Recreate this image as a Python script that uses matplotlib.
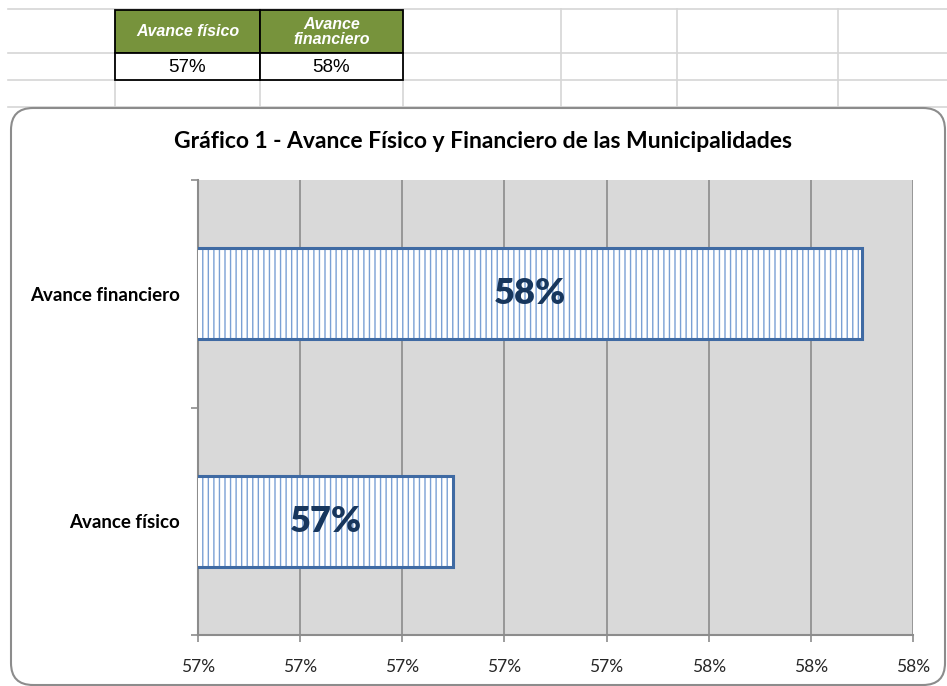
import matplotlib.pyplot as plt
from matplotlib.patches import Rectangle, FancyBboxPatch

# data
categories = ['Avance físico', 'Avance financiero']
values = [0.5725, 0.5765]
value_labels = ['57%', '58%']
header_labels = ['Avance físico', 'Avance\nfinanciero']
x_ticks = [0.570, 0.571, 0.572, 0.573, 0.574, 0.575, 0.576, 0.577]
x_tick_labels = ['57%', '57%', '57%', '57%', '57%', '58%', '58%', '58%']
title = 'Gráfico 1 - Avance Físico y Financiero de las Municipalidades'

W, H = 947, 686
fig = plt.figure(figsize=(W / 100, H / 100), dpi=100)
fig.patch.set_facecolor('white')

# spreadsheet background, pixel coordinates
bg = fig.add_axes([0, 0, 1, 1])
bg.set_xlim(0, W)
bg.set_ylim(H, 0)
bg.axis('off')

grid_c = '#d6d6d6'
for yy in [9, 53, 80, 107]:
    bg.plot([8, W], [yy, yy], color=grid_c, lw=1.2, zorder=1)
for xx in [115, 260, 403, 561, 677, 838]:
    bg.plot([xx, xx], [9, 107], color=grid_c, lw=1.2, zorder=1)

# small table
cols = [(115, 260), (260, 403)]
for (x0, x1), hdr, val in zip(cols, header_labels, value_labels):
    bg.add_patch(Rectangle((x0, 10), x1 - x0, 43, facecolor='#77933c',
                           edgecolor='black', lw=1.3, zorder=3))
    bg.add_patch(Rectangle((x0, 53), x1 - x0, 27, facecolor='white',
                           edgecolor='black', lw=1.3, zorder=3))
    bg.text((x0 + x1) / 2, 32, hdr, ha='center', va='center', color='white',
            fontsize=11.5, fontweight='bold', fontstyle='italic',
            family='Liberation Sans', linespacing=0.95, zorder=4)
    bg.text((x0 + x1) / 2, 67, val, ha='center', va='center', color='black',
            fontsize=13.5, family='Liberation Sans', zorder=4)

# chart frame
bg.add_patch(FancyBboxPatch((11, 108), 934, 577,
                            boxstyle='round,pad=0,rounding_size=22',
                            facecolor='white', edgecolor='#8c8c8c', lw=1.5,
                            zorder=2))
bg.text(483, 141, title, ha='center', va='center', fontsize=16.5,
        fontweight='bold', family=['Lato', 'DejaVu Sans'], color='black',
        zorder=4)

# plot area
L, R, T, B = 198, 913, 180, 635
ax = fig.add_axes([L / W, (H - B) / H, (R - L) / W, (B - T) / H])
ax.set_facecolor('#d9d9d9')
ax.set_xlim(x_ticks[0], x_ticks[-1])
ax.set_ylim(-0.5, 1.5)

ypos = list(range(len(categories)))
ax.barh(ypos, values, height=0.4, left=0, facecolor='white',
        edgecolor='#7aa0d4', hatch='|||', lw=0, zorder=3)
ax.barh(ypos, values, height=0.4, left=0, facecolor='none',
        edgecolor='#3f6aa3', lw=2.2, zorder=4)

for y, v, lab in zip(ypos, values, value_labels):
    ax.text((x_ticks[0] + v) / 2, y, lab, ha='center', va='center',
            fontsize=26, fontweight='heavy', color='#17365d',
            family=['Lato', 'DejaVu Sans'], zorder=5)

ax.set_xticks(x_ticks)
ax.set_xticklabels(x_tick_labels, fontsize=12.5, color='#262626',
                   family=['Lato', 'DejaVu Sans'])
ax.grid(axis='x', color='#8c8c8c', lw=1.2, zorder=1)
ax.set_axisbelow(True)

ax.set_yticks([-0.5, 0.5, 1.5])
ax.set_yticklabels([])
ax.set_yticks(ypos, minor=True)
ax.set_yticklabels(categories, minor=True, fontsize=13.5, fontweight='bold',
                   family=['Lato', 'DejaVu Sans'], color='black')
ax.tick_params(axis='y', which='minor', length=0, pad=13)
ax.tick_params(axis='y', which='major', length=5, color='#8c8c8c', width=1.2)
ax.tick_params(axis='x', length=5, color='#8c8c8c', width=1.2, pad=12)

for s in ['top', 'right']:
    ax.spines[s].set_visible(False)
for s in ['left', 'bottom']:
    ax.spines[s].set_color('#8c8c8c')
    ax.spines[s].set_linewidth(1.5)

plt.savefig('out.png', dpi=100)
